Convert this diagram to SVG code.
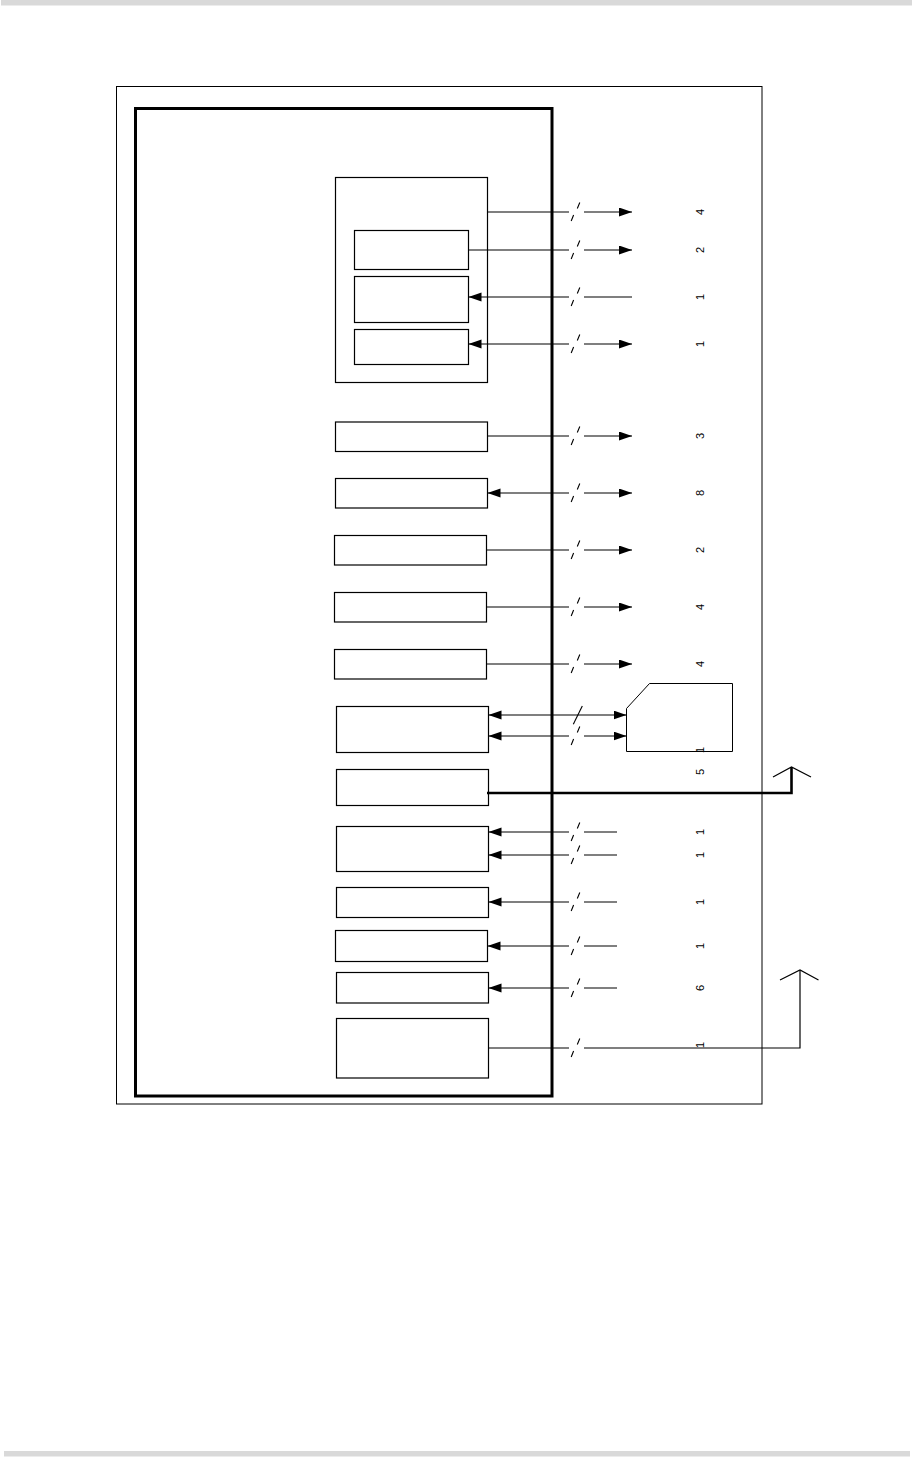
<svg xmlns="http://www.w3.org/2000/svg" width="914" height="1457" viewBox="0 0 914 1457">
<defs>
<marker id="ah" markerUnits="userSpaceOnUse" markerWidth="14" markerHeight="10" refX="13" refY="4.5" orient="auto-start-reverse">
<path d="M0,0 L13,4.5 L0,9 Z" fill="#000"/>
</marker>
<style>
.bx{fill:#fff;stroke:#000;stroke-width:1.2}
.ln{fill:none;stroke:#000;stroke-width:1.2}
.th{fill:none;stroke:#000;stroke-width:2.6}
.sl{fill:none;stroke:#000;stroke-width:1.1}
.num{font-family:"Liberation Sans",Arial,sans-serif;font-size:11px;fill:#000;text-anchor:middle}
</style>
</defs>
<rect x="1" y="0" width="911" height="5.5" fill="#d9d9d9"/>
<rect x="4" y="1451" width="906" height="5.5" fill="#d9d9d9"/>
<g id="frame-outer"><rect x="116.5" y="86.5" width="645.5" height="1017.5" fill="none" stroke="#000" stroke-width="1"/></g>
<g id="frame-inner"><rect x="135.5" y="108.5" width="416.5" height="987.5" fill="none" stroke="#000" stroke-width="3"/></g>

<g id="node-group-top">
<rect class="bx" x="335.5" y="177.5" width="152" height="205"/>
<rect class="bx" id="node-t1" x="354.5" y="230.5" width="114" height="39"/>
<rect class="bx" id="node-t2" x="354.5" y="276.5" width="114" height="46"/>
<rect class="bx" id="node-t3" x="354.5" y="329.5" width="114" height="35"/>
</g>
<g id="node-a"><rect class="bx" x="335.5" y="422" width="152" height="29.5"/></g>
<g id="node-b"><rect class="bx" x="335.5" y="478.5" width="152" height="29.5"/></g>
<g id="node-c"><rect class="bx" x="334.5" y="535.5" width="152" height="29.5"/></g>
<g id="node-d"><rect class="bx" x="334.5" y="592.5" width="152" height="29.5"/></g>
<g id="node-e"><rect class="bx" x="334.5" y="649.5" width="152" height="29.5"/></g>
<g id="node-f"><rect class="bx" x="336.5" y="706.5" width="152" height="46"/></g>
<g id="node-g"><rect class="bx" x="336.5" y="769.5" width="152" height="36"/></g>
<g id="node-h"><rect class="bx" x="336.5" y="826.5" width="152" height="45"/></g>
<g id="node-i"><rect class="bx" x="336.5" y="887.5" width="152" height="30"/></g>
<g id="node-j"><rect class="bx" x="335.5" y="930.5" width="152" height="31"/></g>
<g id="node-k"><rect class="bx" x="336.5" y="972.5" width="152" height="30.5"/></g>
<g id="node-l"><rect class="bx" x="336.5" y="1018.5" width="152" height="59.5"/></g>
<g id="node-pent"><path d="M626.5,708.5 L649.5,683.5 L732.5,683.5 L732.5,751.5 L626.5,751.5 Z" fill="#fff" stroke="#000" stroke-width="1"/></g>

<g id="connectors">
<path class="ln" d="M487.5,212 H569 M584,212 H632" marker-end="url(#ah)"/>
<path class="ln" d="M468.5,250 H569 M584,250 H632" marker-end="url(#ah)"/>
<path class="ln" d="M632,297 H584 M569,297 H468.5" marker-end="url(#ah)"/>
<path class="ln" d="M468.5,344 H569" marker-start="url(#ah)"/>
<path class="ln" d="M584,344 H632" marker-end="url(#ah)"/>
<path class="ln" d="M487.5,436 H569 M584,436 H632" marker-end="url(#ah)"/>
<path class="ln" d="M487.5,493 H569" marker-start="url(#ah)"/>
<path class="ln" d="M584,493 H632" marker-end="url(#ah)"/>
<path class="ln" d="M486.5,550 H569 M584,550 H632" marker-end="url(#ah)"/>
<path class="ln" d="M486.5,607 H569 M584,607 H632" marker-end="url(#ah)"/>
<path class="ln" d="M486.5,664 H569 M584,664 H632" marker-end="url(#ah)"/>
<path class="ln" d="M488.5,715 H626.5" marker-start="url(#ah)" marker-end="url(#ah)"/>
<path class="ln" d="M488.5,736 H569" marker-start="url(#ah)"/>
<path class="ln" d="M584,736 H626.5" marker-end="url(#ah)"/>
<path class="th" d="M487,793 H791.5 V767"/>
<path class="ln" d="M773,777 L791.5,767 L811,777"/>
<path class="ln" d="M617,832 H584 M569,832 H488.5" marker-end="url(#ah)"/>
<path class="ln" d="M617,855 H584 M569,855 H488.5" marker-end="url(#ah)"/>
<path class="ln" d="M617,902 H584 M569,902 H488.5" marker-end="url(#ah)"/>
<path class="ln" d="M617,946 H584 M569,946 H487.5" marker-end="url(#ah)"/>
<path class="ln" d="M617,988 H584 M569,988 H488.5" marker-end="url(#ah)"/>
<path class="ln" d="M488.5,1048 H569 M584,1048 H800 V970"/>
<path class="ln" d="M780,980 L800,970 L818.5,980"/>
<g class="sl">
<path d="M579.8,202.5 L577.3,208.5 M573.6,215 L571.2,221"/>
<path d="M579.8,240.5 L577.3,246.5 M573.6,253 L571.2,259"/>
<path d="M579.8,287.5 L577.3,293.5 M573.6,300 L571.2,306"/>
<path d="M579.8,334.5 L577.3,340.5 M573.6,347 L571.2,353"/>
<path d="M579.8,426.5 L577.3,432.5 M573.6,439 L571.2,445"/>
<path d="M579.8,483.5 L577.3,489.5 M573.6,496 L571.2,502"/>
<path d="M579.8,540.5 L577.3,546.5 M573.6,553 L571.2,559"/>
<path d="M579.8,597.5 L577.3,603.5 M573.6,610 L571.2,616"/>
<path d="M579.8,654.5 L577.3,660.5 M573.6,667 L571.2,673"/>
<path d="M582.3,706 L573.3,724.3"/>
<path d="M579.8,726.5 L577.3,732.5 M573.6,739 L571.2,745"/>
<path d="M579.8,822.5 L577.3,828.5 M573.6,835 L571.2,841"/>
<path d="M579.8,845.5 L577.3,851.5 M573.6,858 L571.2,864"/>
<path d="M579.8,892.5 L577.3,898.5 M573.6,905 L571.2,911"/>
<path d="M579.8,936.5 L577.3,942.5 M573.6,949 L571.2,955"/>
<path d="M579.8,978.5 L577.3,984.5 M573.6,991 L571.2,997"/>
<path d="M579.8,1038.5 L577.3,1044.5 M573.6,1051 L571.2,1057"/>
</g>
</g>

<g id="labels">
<g transform="translate(704,212) rotate(-90)"><text class="num" x="0" y="0">4</text></g>
<g transform="translate(704,250) rotate(-90)"><text class="num" x="0" y="0">2</text></g>
<g transform="translate(704,297) rotate(-90)"><text class="num" x="0" y="0">1</text></g>
<g transform="translate(704,344) rotate(-90)"><text class="num" x="0" y="0">1</text></g>
<g transform="translate(704,436) rotate(-90)"><text class="num" x="0" y="0">3</text></g>
<g transform="translate(704,493) rotate(-90)"><text class="num" x="0" y="0">8</text></g>
<g transform="translate(704,550) rotate(-90)"><text class="num" x="0" y="0">2</text></g>
<g transform="translate(704,607) rotate(-90)"><text class="num" x="0" y="0">4</text></g>
<g transform="translate(704,664) rotate(-90)"><text class="num" x="0" y="0">4</text></g>
<g transform="translate(704,750) rotate(-90)"><text class="num" x="0" y="0">1</text></g>
<g transform="translate(704,772) rotate(-90)"><text class="num" x="0" y="0">5</text></g>
<g transform="translate(704,832) rotate(-90)"><text class="num" x="0" y="0">1</text></g>
<g transform="translate(704,855) rotate(-90)"><text class="num" x="0" y="0">1</text></g>
<g transform="translate(704,902) rotate(-90)"><text class="num" x="0" y="0">1</text></g>
<g transform="translate(704,946) rotate(-90)"><text class="num" x="0" y="0">1</text></g>
<g transform="translate(704,988) rotate(-90)"><text class="num" x="0" y="0">6</text></g>
<g transform="translate(704,1045) rotate(-90)"><text class="num" x="0" y="0">1</text></g>
</g>
</svg>
